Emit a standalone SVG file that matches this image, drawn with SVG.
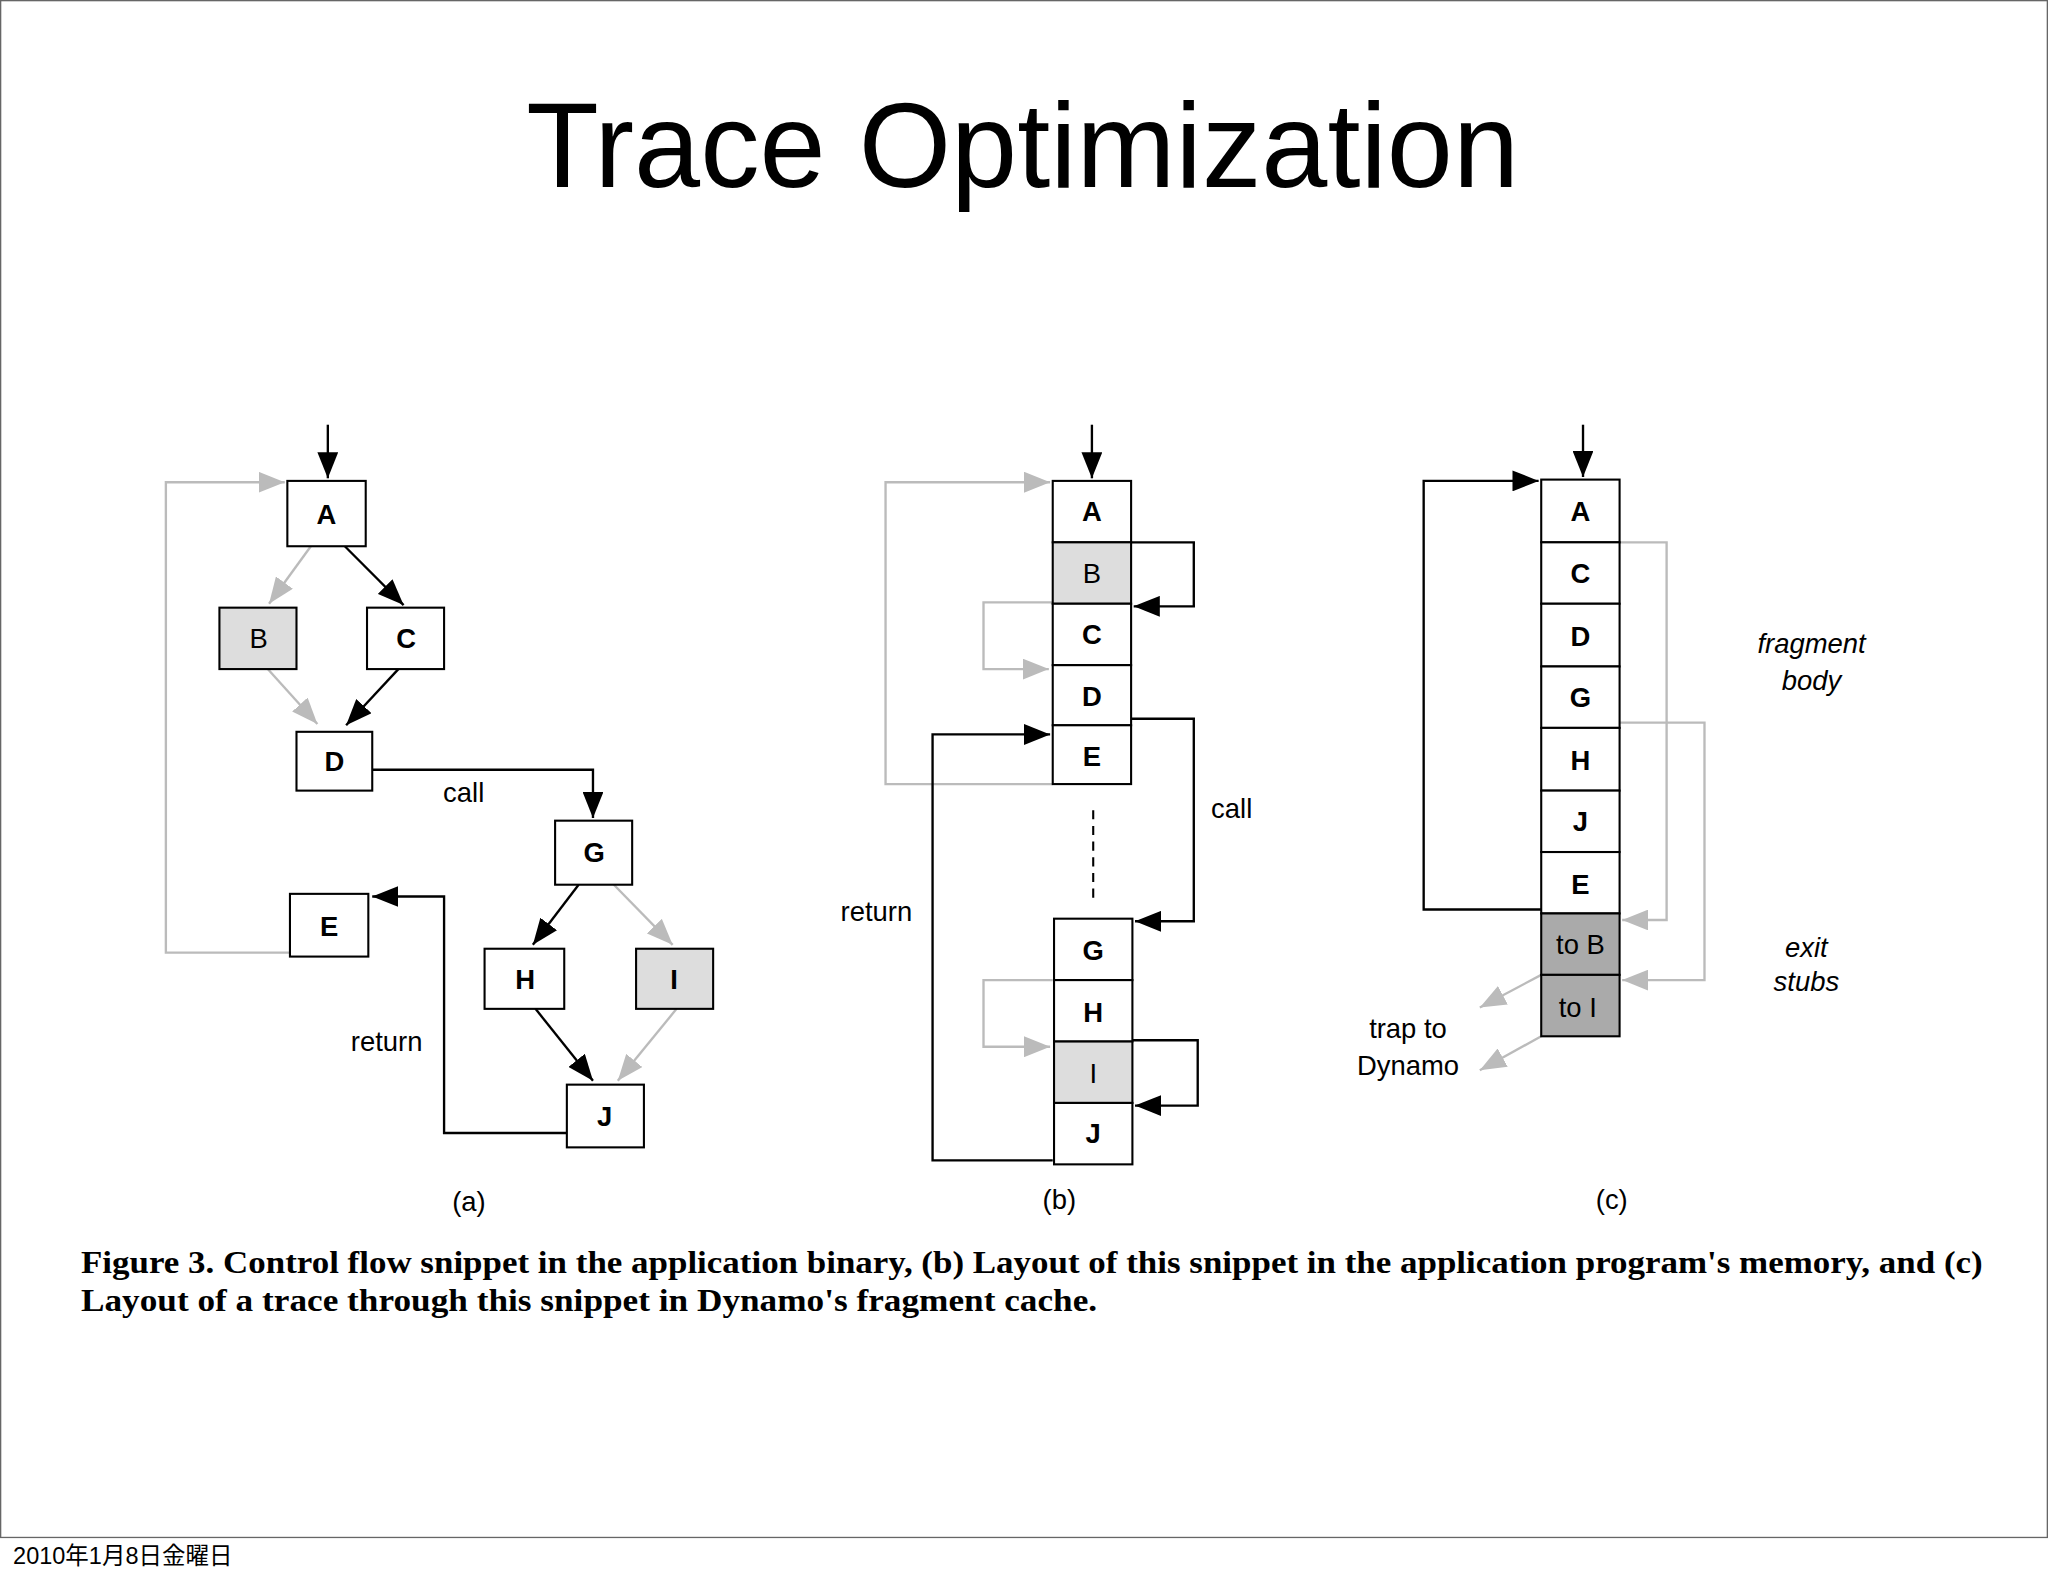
<svg xmlns="http://www.w3.org/2000/svg" width="2048" height="1576" viewBox="0 0 2048 1576">
<style>
.n{fill:#fff;stroke:#000;stroke-width:1.6}
.g{fill:#ddd;stroke:#000;stroke-width:1.6}
.d{fill:#aaa;stroke:#000;stroke-width:1.6}
.t{font-family:"Liberation Sans",Arial,sans-serif;font-size:21px;font-weight:bold;text-anchor:middle}
.l{font-family:"Liberation Sans",Arial,sans-serif;font-size:21px;text-anchor:middle}
.i{font-family:"Liberation Sans",Arial,sans-serif;font-size:21px;font-style:italic;text-anchor:middle}
.k{fill:none;stroke:#000;stroke-width:1.8}
.y{fill:none;stroke:#bbb;stroke-width:1.8}
.kb{marker-end:url(#ak)}
.yb{marker-end:url(#ay)}
</style>
<defs>
<marker id="ak" markerUnits="userSpaceOnUse" markerWidth="22" markerHeight="16" refX="20" refY="8" orient="auto"><path d="M0,0 L20,8 L0,16 Z" fill="#000"/></marker>
<marker id="ay" markerUnits="userSpaceOnUse" markerWidth="22" markerHeight="16" refX="20" refY="8" orient="auto"><path d="M0,0 L20,8 L0,16 Z" fill="#bbb"/></marker>
</defs>
<rect x="0" y="0" width="2048" height="1576" fill="#fff"/>
<g transform="scale(1.30612,1.3068)">
<rect x="0.5" y="0.5" width="1567" height="1176" fill="none" stroke="#666" stroke-width="1"/>
<text x="783" y="143" font-family="'Liberation Sans',Arial,sans-serif" font-size="92" text-anchor="middle" textLength="760" lengthAdjust="spacingAndGlyphs">Trace Optimization</text>
<text x="10" y="1197" font-family="'Liberation Sans','Noto Sans CJK JP',sans-serif" font-size="18">2010年1月8日金曜日</text>

<g id="connectors">
<path class="k kb" d="M251,325 V366"/>
<path class="y yb" d="M222,729 H127 V369 H218"/>
<path class="y yb" d="M238,418 L206,462"/>
<path class="k kb" d="M264,418 L309,463"/>
<path class="y yb" d="M205,512 L243,554"/>
<path class="k kb" d="M305,512 L265,555"/>
<path class="k kb" d="M285,589 H454 V626"/>
<path class="k kb" d="M443,677 L408,723"/>
<path class="y yb" d="M470,677 L515,723"/>
<path class="k kb" d="M410,772 L454,827"/>
<path class="y yb" d="M518,772 L473,827"/>
<path class="k kb" d="M434,867 H340 V686 H285"/>
<path class="k kb" d="M836,325 V366"/>
<path class="y yb" d="M806,600 H678 V369 H804"/>
<path class="k kb" d="M866,415 H914 V464 H868"/>
<path class="y yb" d="M806,461 H753 V512 H803"/>
<path class="k kb" d="M866,550 H914 V705 H869"/>
<path class="k kb" d="M806,888 H714 V562 H804"/>
<path class="y yb" d="M806,750 H753 V801 H804"/>
<path class="k kb" d="M867,796 H917 V846 H869"/>
<path d="M837,620 V692" stroke="#000" stroke-width="1.6" stroke-dasharray="7,5"/>
<path class="k kb" d="M1212,325 V365"/>
<path class="k kb" d="M1180,696 H1090 V368 H1178"/>
<path class="y yb" d="M1240,415 H1276 V704 H1242"/>
<path class="y yb" d="M1240,553 H1305 V750 H1242"/>
<path class="y yb" d="M1180,746 L1133,771"/>
<path class="y yb" d="M1180,793 L1133,819"/>
</g>

<g id="a-A"><rect class="n" x="220" y="368" width="60" height="50"/><text class="t" x="250" y="401">A</text></g>
<g id="a-B"><rect class="g" x="168" y="465" width="59" height="47"/><text class="l" x="198" y="496">B</text></g>
<g id="a-C"><rect class="n" x="281" y="465" width="59" height="47"/><text class="t" x="311" y="496">C</text></g>
<g id="a-D"><rect class="n" x="227" y="560" width="58" height="45"/><text class="t" x="256" y="590">D</text></g>
<g id="a-G"><rect class="n" x="425" y="628" width="59" height="49"/><text class="t" x="455" y="660">G</text></g>
<g id="a-E"><rect class="n" x="222" y="684" width="60" height="48"/><text class="t" x="252" y="716">E</text></g>
<g id="a-H"><rect class="n" x="371" y="726" width="61" height="46"/><text class="t" x="402" y="757">H</text></g>
<g id="a-I"><rect class="g" x="487" y="726" width="59" height="46"/><text class="t" x="516" y="757">I</text></g>
<g id="a-J"><rect class="n" x="434" y="830" width="59" height="48"/><text class="t" x="463" y="862">J</text></g>
<text class="l" x="355" y="614">call</text>
<text class="l" x="296" y="804">return</text>
<text class="l" x="359" y="927">(a)</text>

<g id="b-A"><rect class="n" x="806" y="368" width="60" height="47"/><text class="t" x="836" y="399">A</text></g>
<g id="b-B"><rect class="g" x="806" y="415" width="60" height="47"/><text class="l" x="836" y="446">B</text></g>
<g id="b-C"><rect class="n" x="806" y="462" width="60" height="47"/><text class="t" x="836" y="493">C</text></g>
<g id="b-D"><rect class="n" x="806" y="509" width="60" height="46"/><text class="t" x="836" y="540">D</text></g>
<g id="b-E"><rect class="n" x="806" y="555" width="60" height="45"/><text class="t" x="836" y="586">E</text></g>
<g id="b-G"><rect class="n" x="807" y="703" width="60" height="47"/><text class="t" x="837" y="735">G</text></g>
<g id="b-H"><rect class="n" x="807" y="750" width="60" height="47"/><text class="t" x="837" y="782">H</text></g>
<g id="b-I"><rect class="g" x="807" y="797" width="60" height="47"/><text class="l" x="837" y="829">I</text></g>
<g id="b-J"><rect class="n" x="807" y="844" width="60" height="47"/><text class="t" x="837" y="875">J</text></g>
<text class="l" x="943" y="626">call</text>
<text class="l" x="671" y="705">return</text>
<text class="l" x="811" y="925">(b)</text>

<g id="c-A"><rect class="n" x="1180" y="367" width="60" height="48"/><text class="t" x="1210" y="399">A</text></g>
<g id="c-C"><rect class="n" x="1180" y="415" width="60" height="47"/><text class="t" x="1210" y="446">C</text></g>
<g id="c-D"><rect class="n" x="1180" y="462" width="60" height="48"/><text class="t" x="1210" y="494">D</text></g>
<g id="c-G"><rect class="n" x="1180" y="510" width="60" height="47"/><text class="t" x="1210" y="541">G</text></g>
<g id="c-H"><rect class="n" x="1180" y="557" width="60" height="48"/><text class="t" x="1210" y="589">H</text></g>
<g id="c-J"><rect class="n" x="1180" y="605" width="60" height="47"/><text class="t" x="1210" y="636">J</text></g>
<g id="c-E"><rect class="n" x="1180" y="652" width="60" height="47"/><text class="t" x="1210" y="684">E</text></g>
<g id="c-toB"><rect class="d" x="1180" y="699" width="60" height="47"/><text class="l" x="1210" y="730">to B</text></g>
<g id="c-toI"><rect class="d" x="1180" y="746" width="60" height="47"/><text class="l" x="1208" y="778">to I</text></g>
<text class="l" x="1078" y="794">trap to</text>
<text class="l" x="1078" y="823">Dynamo</text>
<text class="i" x="1387" y="500">fragment</text>
<text class="i" x="1387" y="528">body</text>
<text class="i" x="1383" y="732">exit</text>
<text class="i" x="1383" y="758">stubs</text>
<text class="l" x="1234" y="925">(c)</text>

<g font-family="'Liberation Serif','Times New Roman',serif" font-size="24.5" font-weight="bold">
<text x="62" y="974" textLength="1456" lengthAdjust="spacingAndGlyphs">Figure 3. Control flow snippet in the application binary, (b) Layout of this snippet in the application program's memory, and (c)</text>
<text x="62" y="1003" textLength="778" lengthAdjust="spacingAndGlyphs">Layout of a trace through this snippet in Dynamo's fragment cache.</text>
</g>
</g>
</svg>
